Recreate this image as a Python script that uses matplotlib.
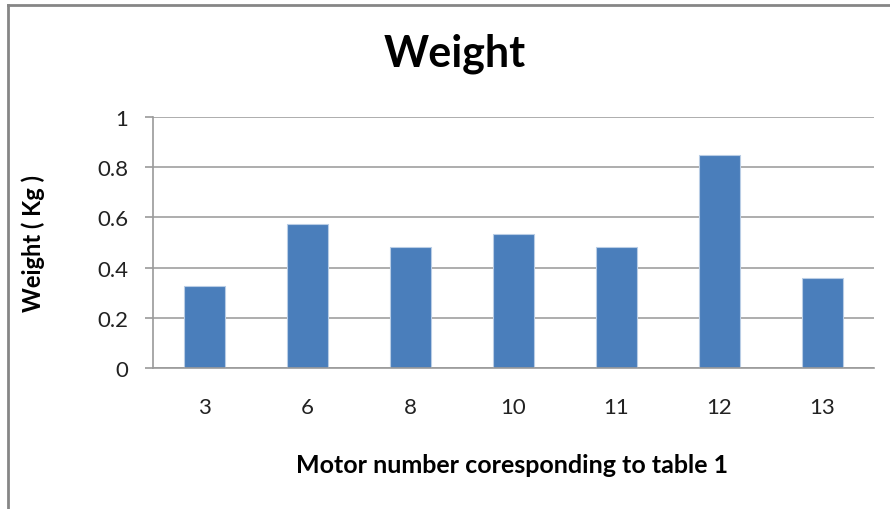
import matplotlib
matplotlib.use("Agg")
import matplotlib.pyplot as plt
from matplotlib.lines import Line2D

# data
motors = ["3", "6", "8", "10", "11", "12", "13"]
weights = [0.325, 0.572, 0.481, 0.534, 0.481, 0.849, 0.36]
yticks = [0, 0.2, 0.4, 0.6, 0.8, 1]
yticklabels = ["0", "0.2", "0.4", "0.6", "0.8", "1"]

plt.rcParams['font.family'] = ['Lato', 'DejaVu Sans']

fig = plt.figure(figsize=(8.9, 5.1), dpi=100)
ax = fig.add_axes([153 / 890, 1 - 369 / 510, (874 - 153) / 890, (369 - 118) / 510])

x = list(range(len(motors)))
ax.bar(x, weights, width=0.4, color='#4A7EBB', edgecolor='#B9CDE5', linewidth=0.8, zorder=3)

ax.set_xlim(-0.5, len(motors) - 0.5)
ax.set_ylim(0, 1)
ax.set_yticks(yticks)
ax.set_yticklabels(yticklabels)
ax.set_xticks(x)
ax.set_xticklabels(motors)

ax.grid(axis='y', color='#A0A0A0', linewidth=1.2, zorder=0)
ax.set_axisbelow(True)
for side in ['top', 'right']:
    ax.spines[side].set_visible(False)
for side in ['left', 'bottom']:
    ax.spines[side].set_color('#9A9A9A')
    ax.spines[side].set_linewidth(1.2)
ax.spines['bottom'].set_zorder(4)

ax.tick_params(axis='y', length=6, width=1.2, color='#9A9A9A', pad=12, labelsize=16, labelcolor='#222222')
ax.tick_params(axis='x', length=0, pad=21, labelsize=16, labelcolor='#222222')

fig.text(455 / 890, 1 - 67 / 510, "Weight", fontsize=31, fontweight='bold', ha='center', va='baseline')
fig.text(512 / 890, 1 - 473 / 510, "Motor number coresponding to table 1", fontsize=18,
         fontweight='bold', ha='center', va='baseline')
fig.text(33 / 890, 1 - 244 / 510, "Weight ( Kg )", fontsize=17, fontweight='bold',
         rotation=90, ha='center', va='center')

# outer chart frame (cut off on the right and bottom)
fig.add_artist(Line2D([8 / 890, 8 / 890], [0, 1 - 6 / 510], transform=fig.transFigure,
                      color='#868686', linewidth=2))
fig.add_artist(Line2D([8 / 890, 1], [1 - 6 / 510, 1 - 6 / 510], transform=fig.transFigure,
                      color='#868686', linewidth=2))

fig.savefig("out.png", dpi=100)
